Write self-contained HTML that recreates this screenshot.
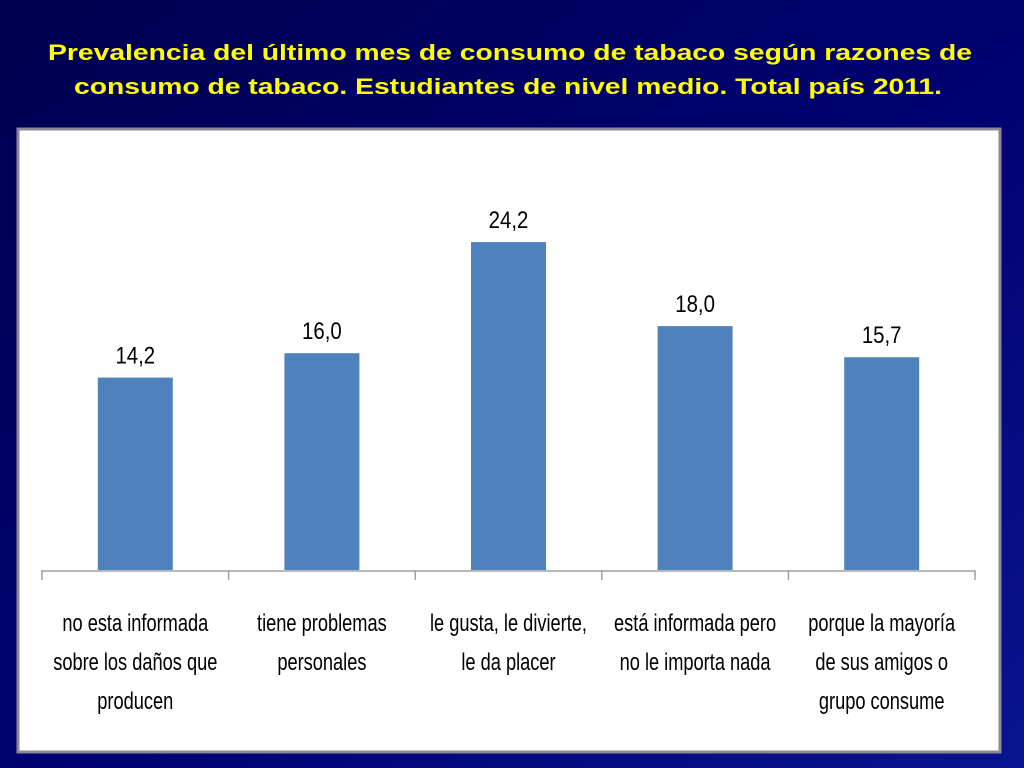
<!DOCTYPE html>
<html><head><meta charset="utf-8"><style>
html,body{margin:0;padding:0;width:1024px;height:768px;overflow:hidden;background:#000066;}
svg{display:block}
</style></head><body>
<svg id="chart" width="1024" height="768" xmlns="http://www.w3.org/2000/svg">
<defs>
<linearGradient id="bg" x1="0" y1="0" x2="1" y2="1">
<stop offset="0" stop-color="#000050"/><stop offset="0.5" stop-color="#00006e"/><stop offset="1" stop-color="#0a1490"/>
</linearGradient>
</defs>
<rect x="0" y="0" width="1024" height="768" fill="url(#bg)"/>
<g font-family="Liberation Sans, Arial, sans-serif" font-weight="bold" font-size="22" fill="#ffff00" text-anchor="middle">
<text x="510" y="60" textLength="924" lengthAdjust="spacingAndGlyphs">Prevalencia del último mes de consumo de tabaco según razones de</text>
<text x="508" y="94" textLength="868" lengthAdjust="spacingAndGlyphs">consumo de tabaco. Estudiantes de nivel medio. Total país 2011.</text>
</g>
<rect x="18" y="129" width="982" height="623" fill="#ffffff" stroke="#8a8a96" stroke-width="3"/>
<g id="plot"></g>
</svg>
<script>
const categories = [
  ["no esta informada","sobre los daños que","producen"],
  ["tiene problemas","personales"],
  ["le gusta, le divierte,","le da placer"],
  ["está informada pero","no le importa nada"],
  ["porque la mayoría","de sus amigos o","grupo consume"]
];
const values = [14.2, 16.0, 24.2, 18.0, 15.7];
const valueLabels = ["14,2","16,0","24,2","18,0","15,7"];

const NS = "http://www.w3.org/2000/svg";
const plot = document.getElementById("plot");
const x0 = 42, x1 = 975, baseY = 570, pxPerUnit = 13.55;
const band = (x1 - x0) / categories.length;
const barW = 75;
function xPos(i){ return x0 + band * i + band / 2; }
function yPos(v){ return baseY - v * pxPerUnit; }
function mk(tag, attrs){ const e = document.createElementNS(NS, tag); for (const k in attrs) e.setAttribute(k, attrs[k]); return e; }

values.forEach((v, i) => {
  const bar = mk("rect", {x: xPos(i) - barW/2, y: yPos(v), width: barW, height: baseY - yPos(v), fill: "#4f81bd"});
  
  
  plot.appendChild(bar);
  const lbl = mk("text", {x: xPos(i), y: yPos(v) - 14, "text-anchor": "middle", "font-family": "Liberation Sans, sans-serif", "font-size": "24", fill: "#000", transform: "translate(" + xPos(i) + ",0) scale(0.85,1) translate(" + (-xPos(i)) + ",0)"});
  lbl.textContent = valueLabels[i];
  
  
  plot.appendChild(lbl);
});

const axis = mk("line", {x1: x0, y1: baseY + 1, x2: x1, y2: baseY + 1, stroke: "#a0a0a0", "stroke-width": 1.5});


plot.appendChild(axis);
for (let i = 0; i <= categories.length; i++) {
  const t = mk("line", {x1: x0 + band*i, y1: baseY, x2: x0 + band*i, y2: baseY + 10, stroke: "#a0a0a0", "stroke-width": 1.5});
  
  
  plot.appendChild(t);
}
categories.forEach((lines, i) => {
  lines.forEach((s, j) => {
    const cx = xPos(i);
    const t = mk("text", {x: cx, y: 631 + j*39, "text-anchor": "middle", "font-family": "Liberation Sans, sans-serif", "font-size": "24", fill: "#000", transform: "translate(" + cx + ",0) scale(0.76,1) translate(" + (-cx) + ",0)"});
    t.textContent = s;
    
    
    plot.appendChild(t);
  });
});
</script>
</body></html>
